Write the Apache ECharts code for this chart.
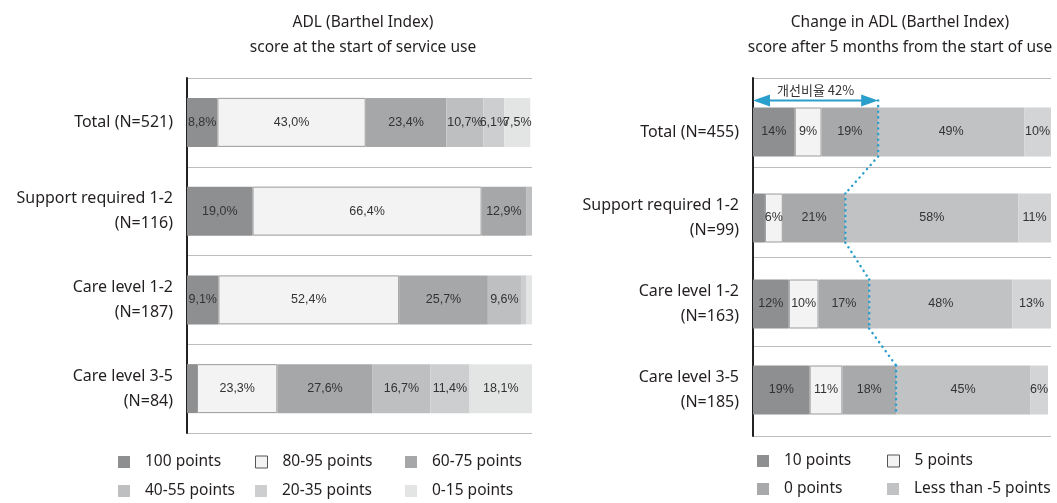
<!DOCTYPE html>
<html>
<head>
<meta charset="utf-8">
<script src="https://cdn.jsdelivr.net/npm/echarts@6/dist/echarts.min.js"></script>
<style>
  html, body { margin: 0; padding: 0; background: #fff; }
  #chart { width: 1057px; height: 503px; }
</style>
</head>
<body>
<div id="chart"></div>
<script>
// left chart: ADL score at start of service use (%)
const leftCats = ['Total (N=521)', 'Support required 1-2\n(N=116)', 'Care level 1-2\n(N=187)', 'Care level 3-5\n(N=84)'];
const leftNames = ['100 points', '80-95 points', '60-75 points', '40-55 points', '20-35 points', '0-15 points'];
const p100 = [8.8, 19.0, 9.1, 2.9];
const p80 = [43.0, 66.4, 52.4, 23.3];
const p60 = [23.4, 12.9, 25.7, 27.6];
const p40 = [10.7, 1.7, 9.6, 16.7];
const p20 = [6.1, 0, 1.6, 11.4];
const p0 = [7.5, 0, 1.6, 18.1];

// right chart: change after 5 months (%)
const rightCats = ['Total (N=455)', 'Support required 1-2\n(N=99)', 'Care level 1-2\n(N=163)', 'Care level 3-5\n(N=185)'];
const rightNames = ['10 points', '5 points', '0 points', 'Less than -5 points', 'Less than -10 points'];
const c10 = [14, 4, 12, 19];
const c5 = [9, 6, 10, 11];
const c0 = [19, 21, 17, 18];
const cm5 = [49, 58, 48, 45];
const cm10 = [10, 11, 13, 6];

const improve = c10.map((v, i) => v + c5[i] + c0[i]);

const leftColors = ['#8e8f91', '#f3f3f3', '#a6a7a9', '#bebfc1', '#cdcecf', '#e3e4e4'];
const rightColors = ['#8e8f91', '#f3f3f3', '#a8a9ab', '#c1c2c4', '#d3d4d5'];
const FONT = '"Noto Sans", sans-serif';
const BLUE = '#2b9fcb';

const chart = echarts.init(document.getElementById('chart'));

const labelStyle = {
    show: true,
    position: 'inside',
    color: '#333',
    fontSize: 12.5,
    fontFamily: '"Liberation Sans", sans-serif'
};

const leftSeries = [p100, p80, p60, p40, p20, p0].map((d, k) => ({
    name: leftNames[k],
    type: 'bar',
    stack: 'L',
    xAxisIndex: 0,
    yAxisIndex: 0,
    barWidth: 49,
    data: d,
    itemStyle: k === 1 ? { color: leftColors[k], borderColor: '#9a9a9a', borderWidth: 1 } : { color: leftColors[k] },
    label: Object.assign({}, labelStyle, {
        formatter: p => p.value >= 3 ? p.value.toFixed(1).replace('.', ',') + '%' : ''
    })
}));

const rightSeries = [c10, c5, c0, cm5, cm10].map((d, k) => ({
    name: rightNames[k],
    type: 'bar',
    stack: 'R',
    xAxisIndex: 1,
    yAxisIndex: 1,
    barWidth: 49,
    data: d,
    itemStyle: k === 1 ? { color: rightColors[k], borderColor: '#9a9a9a', borderWidth: 1 } : { color: rightColors[k] },
    label: Object.assign({}, labelStyle, {
        formatter: p => p.value >= 5 ? p.value + '%' : ''
    })
}));

// dotted guide + arrow for the improvement share
function renderGuide(params, api) {
    const i = params.dataIndex;
    const half = 24.5;
    const p = api.coord([improve[i], i]);
    const dot = { stroke: BLUE, lineWidth: 2.5, lineDash: [0.1, 5.5], lineCap: 'round', fill: null };
    const children = [];
    const ay = p[1] - half - 7;
    children.push({ type: 'line', shape: { x1: p[0], y1: i === 0 ? ay : p[1] - half, x2: p[0], y2: p[1] + half }, style: dot });
    if (i < improve.length - 1) {
        const q = api.coord([improve[i + 1], i + 1]);
        children.push({ type: 'line', shape: { x1: p[0], y1: p[1] + half, x2: q[0], y2: q[1] - half }, style: dot });
    }
    if (i === 0) {
        const o = api.coord([0, 0]);
        children.push({ type: 'line', shape: { x1: o[0] + 12, y1: ay, x2: p[0] - 12, y2: ay }, style: { stroke: BLUE, lineWidth: 2 } });
        children.push({ type: 'polygon', shape: { points: [[o[0], ay], [o[0] + 17, ay - 6], [o[0] + 17, ay + 6]] }, style: { fill: BLUE } });
        children.push({ type: 'polygon', shape: { points: [[p[0], ay], [p[0] - 17, ay - 6], [p[0] - 17, ay + 6]] }, style: { fill: BLUE } });
        children.push({
            type: 'text',
            style: {
                text: '개선비율 ' + improve[0] + '%',
                x: (o[0] + p[0]) / 2,
                y: ay - 4,
                align: 'center',
                verticalAlign: 'bottom',
                fill: '#333',
                font: '13px "Noto Sans CJK KR", sans-serif'
            }
        });
    }
    return { type: 'group', children: children };
}

const legendPos = [
    { name: '100 points', left: 118, top: 454 },
    { name: '80-95 points', left: 255, top: 454 },
    { name: '60-75 points', left: 405, top: 454 },
    { name: '40-55 points', left: 118, top: 483 },
    { name: '20-35 points', left: 255, top: 483 },
    { name: '0-15 points', left: 405, top: 483 },
    { name: '10 points', left: 757, top: 453 },
    { name: '5 points', left: 887, top: 453 },
    { name: '0 points', left: 757, top: 481 },
    { name: 'Less than -5 points', left: 887, top: 481 }
];

const option = {
    backgroundColor: '#fff',
    animation: false,
    title: [
        {
            text: 'ADL (Barthel Index)\nscore at the start of service use',
            left: 358, top: 5, textAlign: 'center',
            textStyle: { fontFamily: FONT, fontSize: 15.5, fontWeight: 'normal', color: '#231f20', lineHeight: 25 }
        },
        {
            text: 'Change in ADL (Barthel Index)\nscore after 5 months from the start of use',
            left: 895, top: 5, textAlign: 'center',
            textStyle: { fontFamily: FONT, fontSize: 15.5, fontWeight: 'normal', color: '#231f20', lineHeight: 25 }
        }
    ],
    legend: legendPos.map(l => ({
        data: [(l.name === '80-95 points' || l.name === '5 points')
            ? { name: l.name, itemStyle: { borderColor: '#555', borderWidth: 1 } }
            : l.name],
        left: l.left,
        top: l.top,
        icon: 'rect',
        itemWidth: 12,
        itemHeight: 12,
        padding: 0,
        selectedMode: false,
        textStyle: { fontFamily: FONT, fontSize: 15.5, color: '#231f20', padding: [0, 0, 0, 10] }
    })),
    grid: [
        { left: 187, top: 78, width: 345, height: 355 },
        { left: 753, top: 89, width: 298, height: 344 },
        { left: 753, top: 78, width: 298, height: 358 }
    ],
    xAxis: [
        { type: 'value', gridIndex: 0, min: 0, max: 100, show: false },
        { type: 'value', gridIndex: 1, min: 0, max: 100, show: false },
        { type: 'value', gridIndex: 2, min: 0, max: 100, show: false }
    ],
    yAxis: [
        {
            type: 'category', gridIndex: 0, inverse: true, data: leftCats,
            axisLine: { show: true, lineStyle: { color: '#222', width: 2 } },
            axisTick: { show: false },
            splitLine: { show: true, lineStyle: { color: '#bdbdbd', width: 1 } },
            axisLabel: { fontFamily: FONT, fontSize: 16, color: '#231f20', lineHeight: 25, margin: 14, align: 'right' }
        },
        {
            type: 'category', gridIndex: 1, inverse: true, data: rightCats,
            axisLine: { show: false },
            axisTick: { show: false },
            splitLine: { show: false },
            axisLabel: { fontFamily: FONT, fontSize: 16, color: '#231f20', lineHeight: 25, margin: 14, align: 'right' }
        },
        {
            type: 'category', gridIndex: 2, inverse: true, data: rightCats,
            axisLine: { show: true, lineStyle: { color: '#222', width: 2 } },
            axisTick: { show: false },
            axisLabel: { show: false },
            splitLine: { show: true, lineStyle: { color: '#bdbdbd', width: 1 } }
        }
    ],
    series: leftSeries.concat(rightSeries, [{
        type: 'custom',
        xAxisIndex: 1,
        yAxisIndex: 1,
        renderItem: renderGuide,
        data: improve.map((v, i) => [v, i]),
        clip: false,
        z: 10,
        silent: true
    }])
};

chart.setOption(option);
</script>
</body>
</html>
